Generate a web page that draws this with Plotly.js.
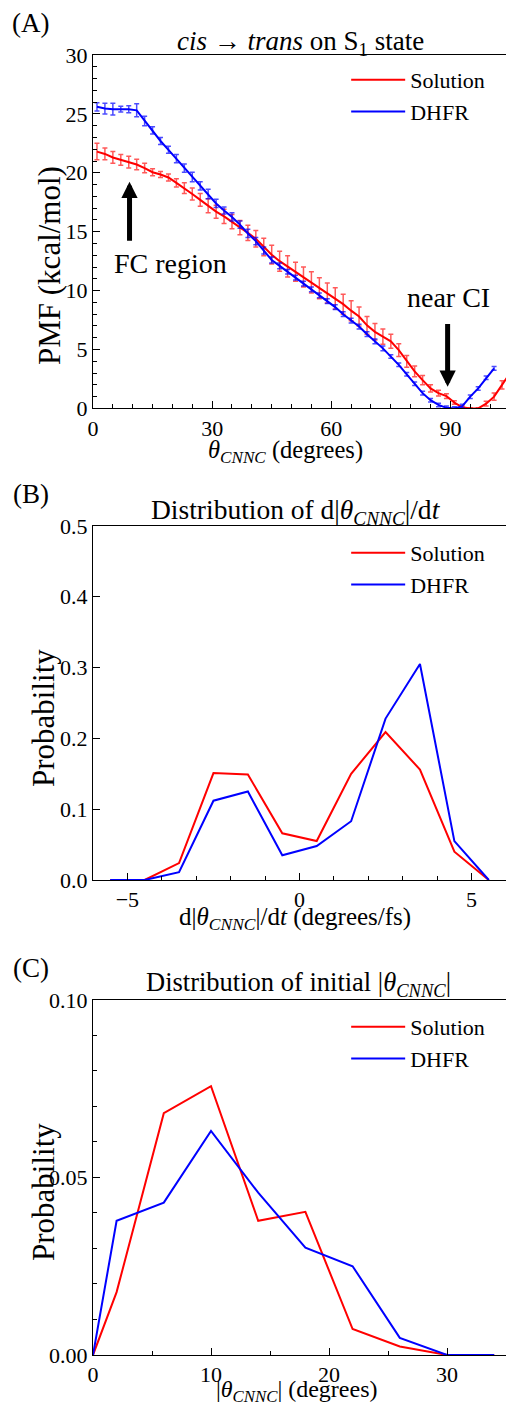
<!DOCTYPE html>
<html>
<head>
<meta charset="utf-8">
<script src="https://cdn.plot.ly/plotly-3.0.1.min.js"></script>
<style>html,body{margin:0;padding:0;background:#fff;}#chart{width:506px;height:1406px;}</style>
</head>
<body>
<div id="chart"></div>
<script>
// ---------- Panel A: PMF along theta_CNNC ----------
const pmfAngleSolution = [1,3,5,7,9,11,13,15,17,19,21,23,25,27,29,31,33,35,37,39,41,43,45,47,49,51,53,55,57,59,61,63,65,67,69,71,73,75,77,79,81,83,85,87,89,91,93,95,97,99,101,103,105];
const pmfSolution = [21.8,21.6,21.3,21.1,20.9,20.7,20.4,20.05,19.85,19.6,19.15,18.7,18.2,17.7,17.2,16.7,16.3,15.85,15.35,14.9,14.4,13.7,13.05,12.5,12.05,11.6,11.15,10.7,10.2,9.8,9.35,8.85,8.3,7.8,7.05,6.5,6.1,5.7,4.95,4.0,3.15,2.4,1.7,1.3,1.05,0.5,0.1,0.0,0.0,0.4,1.0,2.0,3.0];
const pmfErrSolution = [0.7,0.5,0.5,0.45,0.5,0.45,0.4,0.3,0.25,0.3,0.35,0.45,0.5,0.55,0.6,0.55,0.6,0.6,0.6,0.65,0.7,0.75,0.8,0.85,0.9,0.8,0.85,0.9,0.9,0.85,0.9,0.85,0.85,0.8,0.75,0.7,0.65,0.6,0.55,0.5,0.45,0.4,0.3,0.25,0.2,0.15,0.1,0.05,0.05,0.2,0.3,0.35,0.4];
const pmfAngleDHFR = [1,3,5,7,9,11,13,15,17,19,21,23,25,27,29,31,33,35,37,39,41,43,45,47,49,51,53,55,57,59,61,63,65,67,69,71,73,75,77,79,81,83,85,87,89,91,93,95,97,99,101];
const pmfDHFR = [25.6,25.45,25.4,25.4,25.4,25.3,24.4,23.6,22.7,21.95,21.2,20.4,19.65,18.9,18.2,17.4,16.8,16.25,15.6,14.85,14.2,13.4,12.6,12.1,11.6,11.1,10.6,10.1,9.6,9.1,8.6,8.0,7.45,6.95,6.3,5.7,5.1,4.4,3.7,2.9,2.1,1.3,0.7,0.3,0.05,0.0,0.2,1.0,1.7,2.6,3.4];
const pmfErrDHFR = [0.35,0.45,0.5,0.25,0.3,0.55,0.4,0.3,0.3,0.3,0.35,0.35,0.4,0.35,0.4,0.35,0.3,0.35,0.3,0.35,0.3,0.3,0.25,0.25,0.2,0.2,0.2,0.2,0.2,0.2,0.2,0.2,0.2,0.2,0.2,0.2,0.2,0.15,0.15,0.15,0.15,0.15,0.15,0.15,0.15,0.15,0.15,0.15,0.15,0.15,0.15];

// ---------- Panel B: distribution of d|theta|/dt ----------
const velocityBins = [-5.5,-4.5,-3.5,-2.5,-1.5,-0.5,0.5,1.5,2.5,3.5,4.5,5.5];
const velocitySolution = [0,0,0.024,0.151,0.149,0.066,0.055,0.150,0.209,0.156,0.040,0];
const velocityDHFR = [0,0,0.011,0.112,0.125,0.035,0.048,0.083,0.228,0.305,0.055,0];

// ---------- Panel C: distribution of initial |theta| ----------
const initAngleBins = [0,2,6,10,14,18,22,26,30,34];
const initSolution = [0,0.0177,0.0681,0.0757,0.0378,0.0403,0.0073,0.0024,0,0];
const initDHFR = [0,0.0378,0.0429,0.0631,0.0457,0.0302,0.0250,0.0048,0,0];

const seriesNames = ['Solution','DHFR'];
const seriesColors = ['#ff0000','#0000ff'];
const errColors = ['rgba(255,0,0,0.65)','rgba(0,0,255,0.7)'];

const FAMILY = 'Liberation Serif';
function F(size){ return {family: FAMILY, size: size, color:'#000'}; }

const traces = [
  {x: pmfAngleSolution, y: pmfSolution, type:'scatter', mode:'lines', name: seriesNames[0],
   line:{color:seriesColors[0], width:2}, xaxis:'x', yaxis:'y', legend:'legend',
   error_y:{type:'data', array: pmfErrSolution, visible:true, color: errColors[0], thickness:1.5, width:2.5}},
  {x: pmfAngleDHFR, y: pmfDHFR, type:'scatter', mode:'lines', name: seriesNames[1],
   line:{color:seriesColors[1], width:2}, xaxis:'x', yaxis:'y', legend:'legend',
   error_y:{type:'data', array: pmfErrDHFR, visible:true, color: errColors[1], thickness:1.5, width:2.5}},
  {x: velocityBins, y: velocitySolution, type:'scatter', mode:'lines', name: seriesNames[0],
   line:{color:seriesColors[0], width:2}, xaxis:'x2', yaxis:'y2', legend:'legend2'},
  {x: velocityBins, y: velocityDHFR, type:'scatter', mode:'lines', name: seriesNames[1],
   line:{color:seriesColors[1], width:2}, xaxis:'x2', yaxis:'y2', legend:'legend2'},
  {x: initAngleBins, y: initSolution, type:'scatter', mode:'lines', name: seriesNames[0],
   line:{color:seriesColors[0], width:2}, xaxis:'x3', yaxis:'y3', legend:'legend3'},
  {x: initAngleBins, y: initDHFR, type:'scatter', mode:'lines', name: seriesNames[1],
   line:{color:seriesColors[1], width:2}, xaxis:'x3', yaxis:'y3', legend:'legend3'}
];

function xAxis(anchor, range, dtick, minorDtick){
  return {anchor: anchor, domain:[0,1], range: range, dtick: dtick, tick0: 0,
    ticks:'inside', ticklen:7, tickwidth:1, tickcolor:'#000',
    minor:{dtick: minorDtick, ticks:'inside', ticklen:4, tickwidth:1, tickcolor:'#000'},
    showline:true, linecolor:'#000', linewidth:1, mirror:true,
    showgrid:false, zeroline:false, tickfont: F(22)};
}
function yAxis(anchor, domain, range, dtick, minorDtick, fmt){
  const ax = {anchor: anchor, domain: domain, range: range, dtick: dtick, tick0: 0,
    ticks:'inside', ticklen:7, tickwidth:1, tickcolor:'#000',
    showline:true, linecolor:'#000', linewidth:1, mirror:false,
    showgrid:false, zeroline:false, tickfont: F(22), tickformat: fmt};
  if (minorDtick) ax.minor = {dtick: minorDtick, ticks:'inside', ticklen:4, tickwidth:1, tickcolor:'#000'};
  return ax;
}
function legendAt(y){
  return {x:0.613, y:y, xanchor:'left', yanchor:'top', font:F(22), bgcolor:'rgba(0,0,0,0)',
    borderwidth:0, itemwidth:54, tracegroupgap:0};
}

const thetaSub = '<i>θ</i><sub><i>CNNC</i></sub>';
const H = 1406, W = 506, L = 93, PW = 413;
function px(x){ return (x - L) / PW; }
function py(y){ return 1 - y / H; }
function textAnn(text, x, y, size, angle){
  const a = {text: text, xref:'paper', yref:'paper', x: px(x), y: py(y), xanchor:'center', yanchor:'middle',
    showarrow:false, font:F(size)};
  if (angle) a.textangle = angle;
  return a;
}

const layout = {
  width:W, height:H,
  margin:{l:L, r:0, t:0, b:0},
  paper_bgcolor:'#fff', plot_bgcolor:'#fff',
  font:F(22),
  showlegend:true,
  xaxis: xAxis('y', [0,104], 30, 5),
  yaxis: yAxis('x', [0.7095,0.9609], [0,30], 5, 1, ''),
  xaxis2: xAxis('y2', [-6,6], 5, 1),
  yaxis2: yAxis('x2', [0.3741,0.6259], [0,0.5], 0.1, null, '.1f'),
  xaxis3: xAxis('y3', [0,35], 10, 5),
  yaxis3: yAxis('x3', [0.0363,0.2888], [0,0.1], 0.05, 0.01, '.2f'),
  legend: legendAt(0.958),
  legend2: legendAt(0.6216),
  legend3: legendAt(0.2845),
  annotations: [
    textAnn('(A)', 31, 23, 27),
    textAnn('(B)', 31, 494, 27),
    textAnn('(C)', 31, 968, 27),
    textAnn('<i>cis</i> → <i>trans</i> on S<sub>1</sub> state', 300, 43, 27),
    textAnn('Distribution of d|' + thetaSub + '|/d<i>t</i>', 296, 512, 27.5),
    textAnn('Distribution of initial |' + thetaSub + '|', 298, 984, 26.5),
    // axis titles
    textAnn(thetaSub + ' (degrees)', 285, 451, 24.5),
    textAnn('d|' + thetaSub + '|/d<i>t</i> (degrees/fs)', 295, 918, 25),
    textAnn('|' + thetaSub + '| (degrees)', 296, 1391, 24),
    textAnn('PMF (kcal/mol)', 49, 266, 31, -90),
    textAnn('Probability', 43, 718, 31, -90),
    textAnn('Probability', 43, 1192, 31, -90),
    // FC region arrow + label
    {text:'', xref:'x', yref:'y', x:9.2, y:19.25, axref:'x', ayref:'y', ax:9.2, ay:14.1, showarrow:true, arrowhead:2, arrowsize:0.65, arrowwidth:5, arrowcolor:'#000', standoff:0, startstandoff:0},
    {text:'FC region', xref:'x', yref:'y', x:19.4, y:12.3, xanchor:'center', yanchor:'middle', showarrow:false, font:F(28)},
    // near CI arrow + label
    {text:'', xref:'x', yref:'y', x:89.3, y:1.85, axref:'x', ayref:'y', ax:89.3, ay:7.3, showarrow:true, arrowhead:2, arrowsize:0.65, arrowwidth:5, arrowcolor:'#000', standoff:0, startstandoff:0},
    {text:'near CI', xref:'x', yref:'y', x:89.6, y:9.4, xanchor:'center', yanchor:'middle', showarrow:false, font:F(28)}
  ]
};

Plotly.newPlot('chart', traces, layout, {staticPlot:true, displayModeBar:false});
</script>
</body>
</html>
